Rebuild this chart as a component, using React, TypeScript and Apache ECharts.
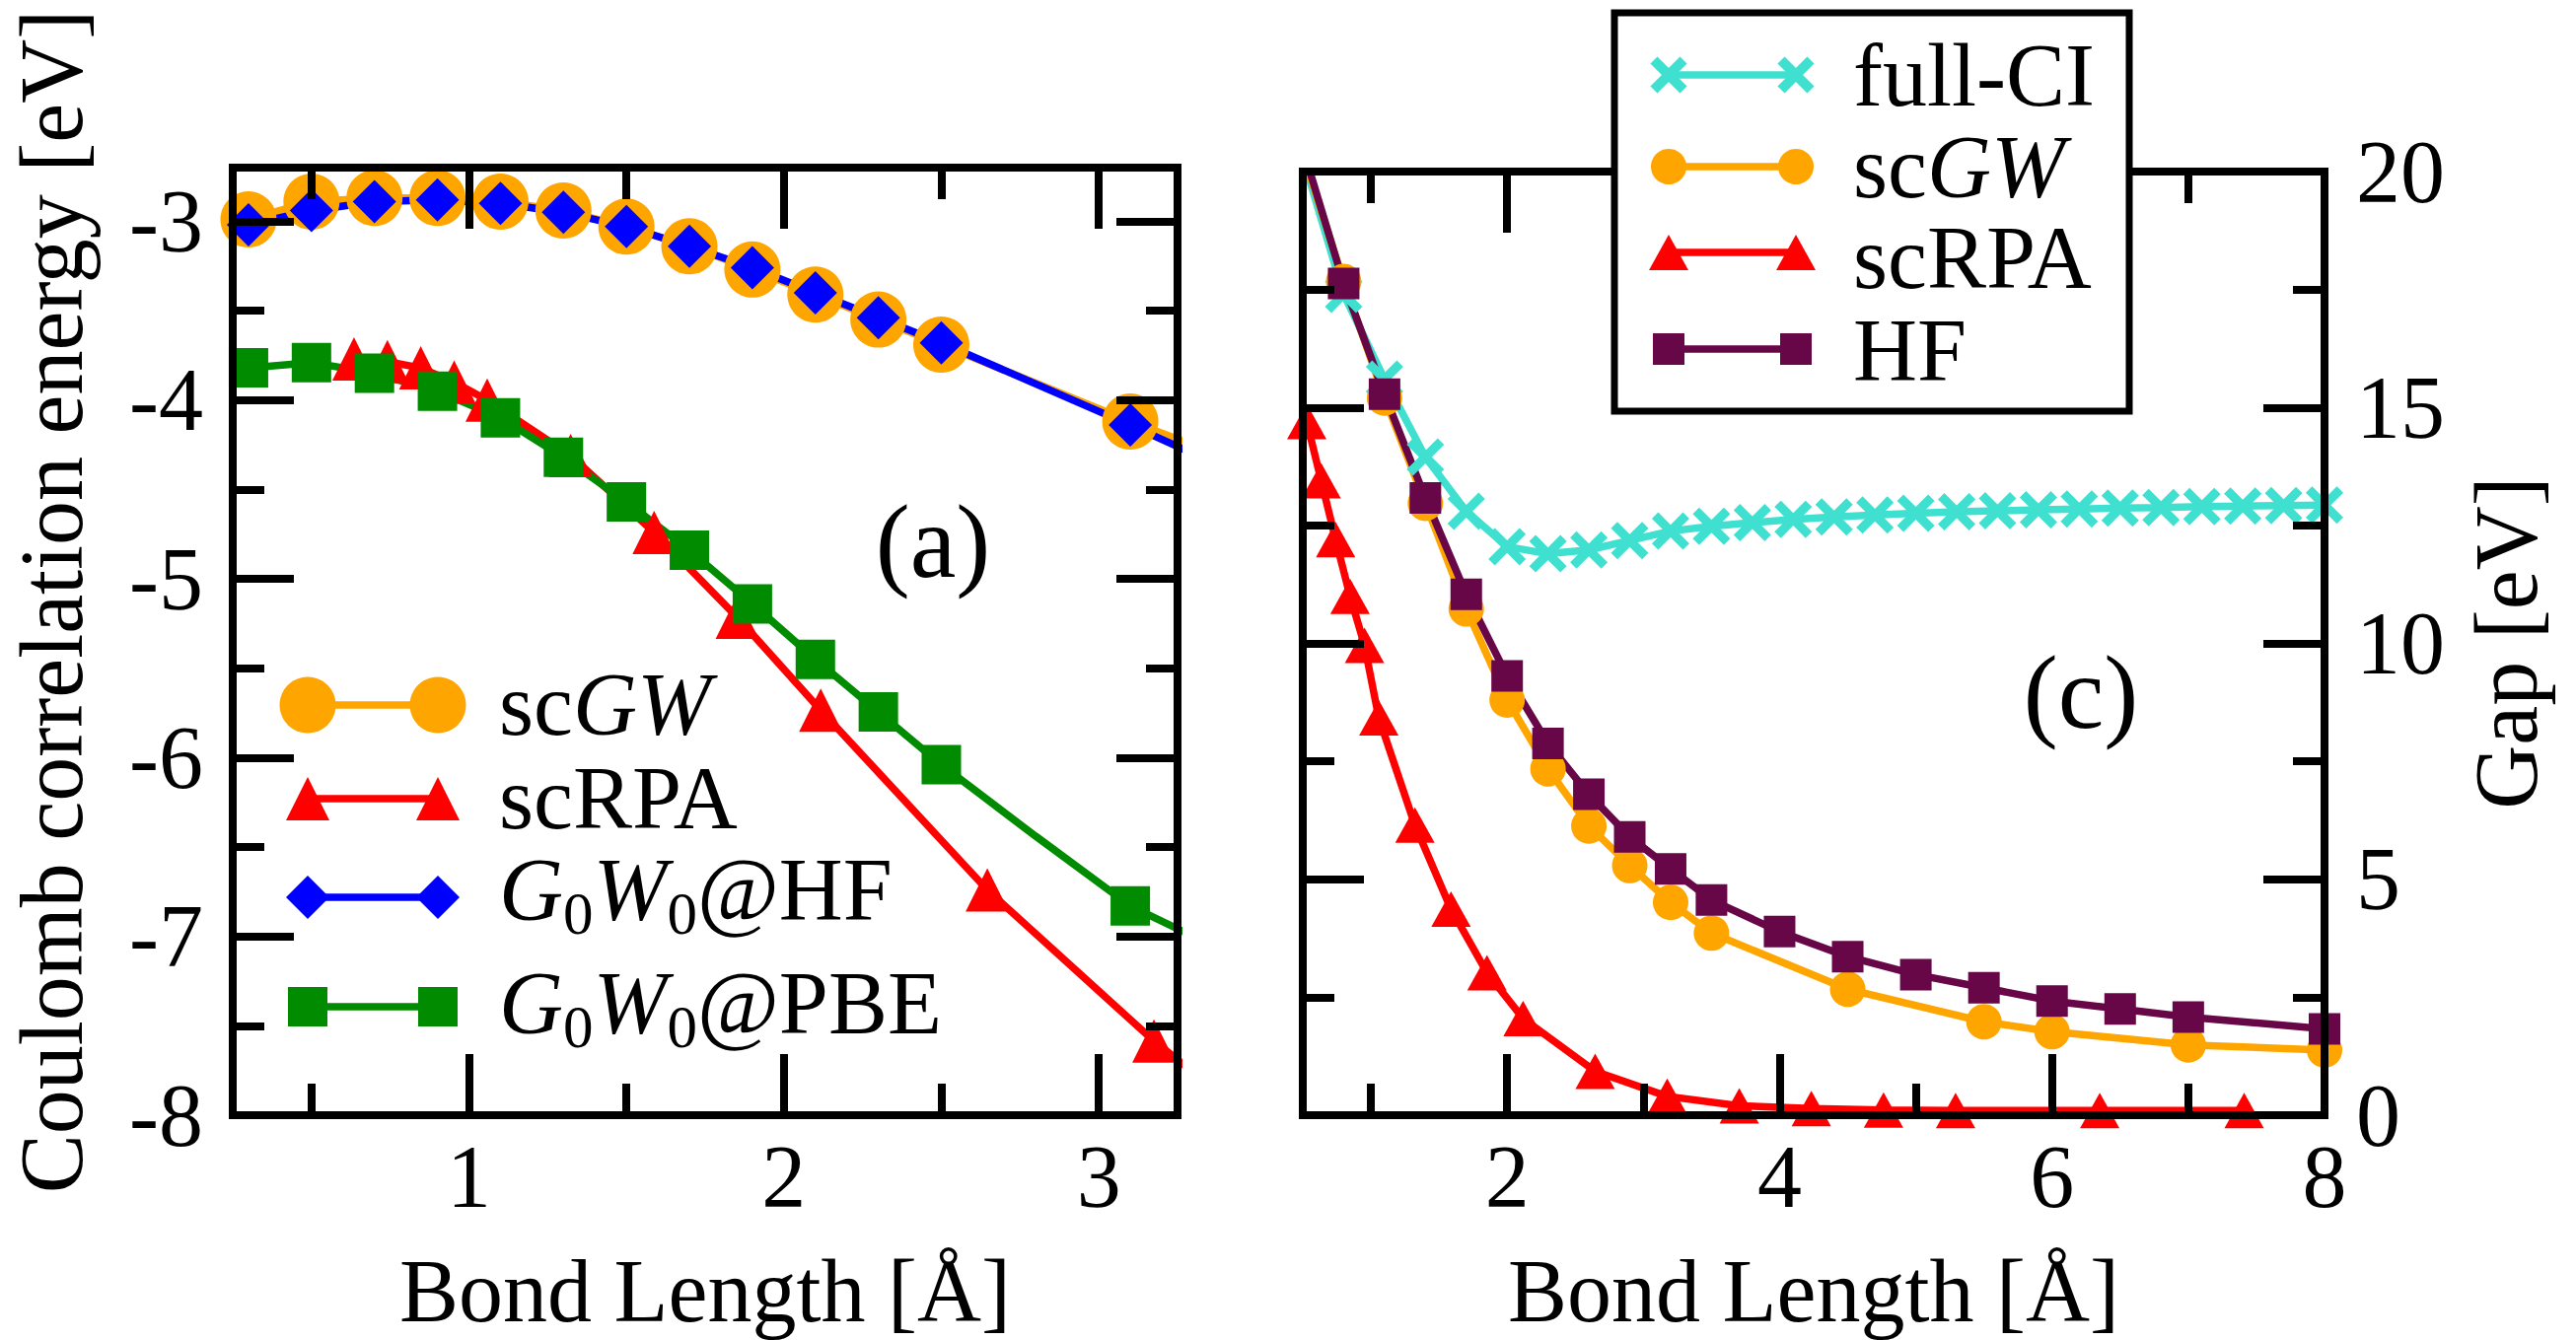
import React, { useEffect, useRef } from "react";
import * as echarts from "echarts";

const FONT = '"Liberation Serif", "Times New Roman", Times, serif';

// ---------------- panel (a): Coulomb correlation energy [eV] ----------------
const aScGWX = [0.3, 0.5, 0.7, 0.9, 1.1, 1.3, 1.5, 1.7, 1.9, 2.1, 2.3, 2.5, 3.1, 3.3];
const aScGWY = [-2.99, -2.89, -2.87, -2.87, -2.89, -2.94, -3.03, -3.14, -3.27, -3.41, -3.55, -3.69, -4.12, -4.25];
const aScGWMark = [1, 1, 1, 1, 1, 1, 1, 1, 1, 1, 1, 1, 1, 0];

const aScRPAX = [0.635, 0.741, 0.847, 0.953, 1.058, 1.323, 1.588, 1.852, 2.117, 2.646, 3.175, 3.3];
const aScRPAY = [-3.77, -3.785, -3.82, -3.9, -4.0, -4.31, -4.74, -5.215, -5.735, -6.74, -7.585, -7.76];
const aScRPAMark = [1, 1, 1, 1, 1, 1, 1, 1, 1, 1, 1, 0];

const aHFX = [0.3, 0.5, 0.7, 0.9, 1.1, 1.3, 1.5, 1.7, 1.9, 2.1, 2.3, 2.5, 3.1, 3.3];
const aHFY = [-3.02, -2.94, -2.89, -2.88, -2.9, -2.95, -3.03, -3.14, -3.26, -3.4, -3.54, -3.68, -4.14, -4.3];
const aHFMark = [1, 1, 1, 1, 1, 1, 1, 1, 1, 1, 1, 1, 1, 0];

const aPBEX = [0.3, 0.5, 0.7, 0.9, 1.1, 1.3, 1.5, 1.7, 1.9, 2.1, 2.3, 2.5, 2.8, 3.1, 3.3];
const aPBEY = [-3.82, -3.79, -3.85, -3.95, -4.1, -4.32, -4.57, -4.84, -5.14, -5.45, -5.745, -6.04, -6.44, -6.83, -7.0];
const aPBEMark = [1, 1, 1, 1, 1, 1, 1, 1, 1, 1, 1, 1, 0, 1, 0];

const aXRange = [0.25, 3.25];
const aYRange = [-8, -2.7];
const aXMajor = [1, 2, 3];
const aXMinor = [0.5, 1.5, 2.5];
const aYMajor = [-8, -7, -6, -5, -4, -3];
const aYMinor = [-7.5, -6.5, -5.5, -4.5, -3.5];

// ---------------- panel (c): Gap [eV] ----------------
const cFullCIX = [0.5, 0.8, 1.1, 1.4, 1.7, 2.0, 2.3, 2.6, 2.9, 3.2, 3.5, 3.8, 4.1, 4.4, 4.7, 5.0, 5.3, 5.6, 5.9, 6.2, 6.5, 6.8, 7.1, 7.4, 7.7, 8.0];
const cFullCIY = [20.3, 17.4, 15.6, 13.95, 12.8, 12.05, 11.9, 11.98, 12.18, 12.38, 12.48, 12.56, 12.63, 12.68, 12.72, 12.76, 12.79, 12.81, 12.83, 12.85, 12.87, 12.88, 12.9, 12.91, 12.92, 12.93];
const cFullCIMark = [0, 1, 1, 1, 1, 1, 1, 1, 1, 1, 1, 1, 1, 1, 1, 1, 1, 1, 1, 1, 1, 1, 1, 1, 1, 1];

const cScGWX = [0.5, 0.8, 1.1, 1.4, 1.7, 2.0, 2.3, 2.6, 2.9, 3.2, 3.5, 4.5, 5.5, 6.0, 7.0, 8.0];
const cScGWY = [20.4, 17.67, 15.2, 12.97, 10.73, 8.8, 7.34, 6.13, 5.29, 4.51, 3.86, 2.67, 1.98, 1.77, 1.49, 1.38];
const cScGWMark = [0, 1, 1, 1, 1, 1, 1, 1, 1, 1, 1, 1, 1, 1, 1, 1];

const cScRPAX = [0.529, 0.635, 0.741, 0.847, 0.953, 1.058, 1.323, 1.588, 1.852, 2.117, 2.646, 3.175, 3.704, 4.233, 4.763, 5.292, 6.35, 7.41];
const cScRPAY = [14.7, 13.45, 12.2, 11.0, 9.96, 8.42, 6.15, 4.37, 3.02, 2.05, 0.93, 0.4, 0.2, 0.14, 0.11, 0.1, 0.1, 0.1];
const cScRPAMark = [1, 1, 1, 1, 1, 1, 1, 1, 1, 1, 1, 1, 1, 1, 1, 1, 1, 1];

const cHFX = [0.5, 0.8, 1.1, 1.4, 1.7, 2.0, 2.3, 2.6, 2.9, 3.2, 3.5, 4.0, 4.5, 5.0, 5.5, 6.0, 6.5, 7.0, 8.0];
const cHFY = [20.5, 17.63, 15.28, 13.08, 11.04, 9.31, 7.88, 6.8, 5.9, 5.22, 4.56, 3.89, 3.36, 2.98, 2.7, 2.42, 2.25, 2.08, 1.83];
const cHFMark = [0, 1, 1, 1, 1, 1, 1, 1, 1, 1, 1, 1, 1, 1, 1, 1, 1, 1, 1];

const cXRange = [0.5, 8];
const cYRange = [0, 20];
const cXMajor = [2, 4, 6, 8];
const cXMinor = [1, 3, 5, 7];
const cYMajor = [0, 5, 10, 15, 20];
const cYMinor = [2.5, 7.5, 12.5, 17.5];

// ---------------- labels ----------------
const xTitle = "Bond Length [Å]";
const aYTitle = "Coulomb correlation energy [eV]";
const cYTitle = "Gap [eV]";
const aLegendRich = ["{n|sc}{i|GW}", "{n|scRPA}", "{i|G}{s|0}{i|W}{s|0}{n|@HF}", "{i|G}{s|0}{i|W}{s|0}{n|@PBE}"];
const cLegendRich = ["{n|full-CI}", "{n|sc}{i|GW}", "{n|scRPA}", "{n|HF}"];

const ORANGE = "#FFA500";
const RED = "#FF0000";
const BLUE = "#0000FF";
const GREEN = "#008B00";
const TURQ = "#40E0D0";
const MAROON = "#670748";
const XMARK = "path://M0,17 L17,0 L50,33 L83,0 L100,17 L67,50 L100,83 L83,100 L50,67 L17,100 L0,83 L33,50 Z";
const FS = 90;

function makeAxis(o: any) {
  const ax: any = {
    type: "value",
    gridIndex: o.grid,
    position: o.position,
    min: o.range[0],
    max: o.range[1],
    z: 5,
    silent: true,
    axisLine: {
      show: !!o.line,
      onZero: false,
      lineStyle: { color: "#000", width: 8, cap: "square" },
    },
    axisTick: {
      show: true,
      inside: true,
      length: o.major ? 62 : 32,
      customValues: o.values,
      lineStyle: { color: "#000", width: 8 },
    },
    axisLabel: o.labels
      ? { show: true, customValues: o.values, margin: o.margin, fontSize: FS, fontFamily: FONT, color: "#000" }
      : { show: false },
    splitLine: { show: false },
    minorTick: { show: false },
    minorSplitLine: { show: false },
  };
  if (o.name) {
    ax.name = o.name;
    ax.nameLocation = "middle";
    ax.nameGap = o.nameGap;
    ax.nameTextStyle = { fontSize: FS, fontFamily: FONT, color: "#000" };
  }
  return ax;
}

function makeSeries(name: string, xs: number[], ys: number[], marks: number[], color: string, symbol: string, size: any, xi: number, yi: number) {
  return {
    type: "line",
    name,
    xAxisIndex: xi,
    yAxisIndex: yi,
    data: xs.map((x, i) => ({ value: [x, ys[i]], symbol: marks[i] ? symbol : "none" })),
    symbol,
    symbolSize: size,
    showSymbol: true,
    showAllSymbol: true,
    clip: true,
    silent: true,
    emphasis: { disabled: true },
    lineStyle: { color, width: 7.5 },
    itemStyle: { color, opacity: 1 },
    z: 2,
  };
}

function legendSymbol(kind: string, cx: number, cy: number, size: any, color: string) {
  const z = 12;
  if (kind === "circle") return { type: "circle", shape: { cx, cy, r: size / 2 }, style: { fill: color }, z };
  if (kind === "rect")
    return { type: "rect", shape: { x: cx - size / 2, y: cy - size / 2, width: size, height: size }, style: { fill: color }, z };
  if (kind === "diamond")
    return {
      type: "polygon",
      shape: { points: [[cx, cy - size / 2], [cx + size / 2, cy], [cx, cy + size / 2], [cx - size / 2, cy]] },
      style: { fill: color },
      z,
    };
  if (kind === "triangle")
    return {
      type: "polygon",
      shape: { points: [[cx, cy - size[1] / 2], [cx + size[0] / 2, cy + size[1] / 2], [cx - size[0] / 2, cy + size[1] / 2]] },
      style: { fill: color },
      z,
    };
  // cross
  const h = size / 2 - 4;
  return {
    type: "group",
    z,
    children: [
      { type: "line", shape: { x1: cx - h, y1: cy - h, x2: cx + h, y2: cy + h }, style: { stroke: color, lineWidth: 10 }, z },
      { type: "line", shape: { x1: cx - h, y1: cy + h, x2: cx + h, y2: cy - h }, style: { stroke: color, lineWidth: 10 }, z },
    ],
  };
}

const rich = {
  n: { fontSize: FS, fontFamily: FONT, fill: "#000", lineHeight: 110, verticalAlign: "middle" },
  i: { fontSize: FS, fontFamily: FONT, fill: "#000", fontStyle: "italic", lineHeight: 110, verticalAlign: "middle" },
  s: { fontSize: 61, fontFamily: FONT, fill: "#000", lineHeight: 61, verticalAlign: "bottom" },
};

function legendRow(x1: number, x2: number, y: number, textX: number, textY: number, kind: string, size: any, color: string, text: string) {
  return [
    { type: "line", shape: { x1, y1: y, x2, y2: y }, style: { stroke: color, lineWidth: 7.5 }, z: 11 },
    legendSymbol(kind, x1, y, size, color),
    legendSymbol(kind, x2, y, size, color),
    { type: "text", x: textX, y: textY, style: { text, rich, align: "left", verticalAlign: "middle" }, z: 12 },
  ];
}

export default function App() {
  const ref = useRef<HTMLDivElement>(null);
  useEffect(() => {
    if (!ref.current) return;
    const chart = echarts.init(ref.current, null, { renderer: "svg" });

    const xAxis = [
      makeAxis({ grid: 0, position: "bottom", range: aXRange, values: aXMajor, major: true, labels: true, line: true, margin: 17, name: xTitle, nameGap: 133 }),
      makeAxis({ grid: 0, position: "bottom", range: aXRange, values: aXMinor }),
      makeAxis({ grid: 0, position: "top", range: aXRange, values: aXMajor, major: true, line: true }),
      makeAxis({ grid: 0, position: "top", range: aXRange, values: aXMinor }),
      makeAxis({ grid: 1, position: "bottom", range: cXRange, values: cXMajor, major: true, labels: true, line: true, margin: 17, name: xTitle, nameGap: 133 }),
      makeAxis({ grid: 1, position: "bottom", range: cXRange, values: cXMinor }),
      makeAxis({ grid: 1, position: "top", range: cXRange, values: cXMajor, major: true, line: true }),
      makeAxis({ grid: 1, position: "top", range: cXRange, values: cXMinor }),
    ];
    const yAxis = [
      makeAxis({ grid: 0, position: "left", range: aYRange, values: aYMajor, major: true, labels: true, line: true, margin: 30 }),
      makeAxis({ grid: 0, position: "left", range: aYRange, values: aYMinor }),
      makeAxis({ grid: 0, position: "right", range: aYRange, values: aYMajor, major: true, line: true }),
      makeAxis({ grid: 0, position: "right", range: aYRange, values: aYMinor }),
      makeAxis({ grid: 1, position: "left", range: cYRange, values: cYMajor, major: true, line: true }),
      makeAxis({ grid: 1, position: "left", range: cYRange, values: cYMinor }),
      makeAxis({ grid: 1, position: "right", range: cYRange, values: cYMajor, major: true, labels: true, line: true, margin: 32 }),
      makeAxis({ grid: 1, position: "right", range: cYRange, values: cYMinor }),
    ];

    const series = [
      makeSeries("scGW (a)", aScGWX, aScGWY, aScGWMark, ORANGE, "circle", 57, 0, 0),
      makeSeries("scRPA (a)", aScRPAX, aScRPAY, aScRPAMark, RED, "triangle", [44, 44], 0, 0),
      makeSeries("G0W0@HF", aHFX, aHFY, aHFMark, BLUE, "diamond", 44, 0, 0),
      makeSeries("G0W0@PBE", aPBEX, aPBEY, aPBEMark, GREEN, "rect", 40, 0, 0),
      makeSeries("full-CI", cFullCIX, cFullCIY, cFullCIMark, TURQ, XMARK, 38, 4, 6),
      makeSeries("scGW (c)", cScGWX, cScGWY, cScGWMark, ORANGE, "circle", 36, 4, 6),
      makeSeries("scRPA (c)", cScRPAX, cScRPAY, cScRPAMark, RED, "triangle", [40, 36], 4, 6),
      makeSeries("HF", cHFX, cHFY, cHFMark, MAROON, "rect", 32, 4, 6),
    ];

    const aLegendKinds = [
      ["circle", 57, ORANGE, 715, 714],
      ["triangle", [44, 44], RED, 810, 809],
      ["diamond", 44, BLUE, 910, 902],
      ["rect", 40, GREEN, 1021, 1017],
    ];
    const cLegendKinds = [
      ["cross", 38, TURQ, 76, 76],
      ["circle", 36, ORANGE, 169, 169],
      ["triangle", [40, 36], RED, 256, 261],
      ["rect", 32, MAROON, 354, 355],
    ];

    const graphic: any[] = [];
    aLegendKinds.forEach((k: any, i) => {
      graphic.push(...legendRow(312, 444, k[3], 506, k[4], k[0], k[1], k[2], aLegendRich[i]));
    });
    graphic.push({
      type: "rect",
      shape: { x: 1637, y: 13, width: 522, height: 404 },
      style: { fill: "#fff", stroke: "#000", lineWidth: 7 },
      z: 10,
    });
    cLegendKinds.forEach((k: any, i) => {
      graphic.push(...legendRow(1692, 1821, k[3], 1879, k[4], k[0], k[1], k[2], cLegendRich[i]));
    });
    graphic.push(
      { type: "text", x: 946, y: 549, style: { text: "(a)", fontSize: 105, fontFamily: FONT, fill: "#000", align: "center", verticalAlign: "middle" }, z: 12 },
      { type: "text", x: 2110, y: 702, style: { text: "(c)", fontSize: 105, fontFamily: FONT, fill: "#000", align: "center", verticalAlign: "middle" }, z: 12 },
      { type: "text", x: 52, y: 610, rotation: Math.PI / 2, style: { text: aYTitle, fontSize: FS, fontFamily: FONT, fill: "#000", align: "center", verticalAlign: "middle" }, z: 12 },
      { type: "text", x: 2541, y: 652, rotation: Math.PI / 2, style: { text: cYTitle, fontSize: FS, fontFamily: FONT, fill: "#000", align: "center", verticalAlign: "middle" }, z: 12 }
    );

    chart.setOption({
      animation: false,
      backgroundColor: "#fff",
      textStyle: { fontFamily: FONT },
      grid: [
        { left: 236, top: 170, width: 958, height: 961, containLabel: false },
        { left: 1321, top: 174, width: 1036, height: 957, containLabel: false },
      ],
      xAxis,
      yAxis,
      series,
      graphic,
    });
    return () => chart.dispose();
  }, []);
  return <div ref={ref} style={{ position: "absolute", left: 0, top: 0, width: 2612, height: 1359, background: "#fff" }} />;
}
